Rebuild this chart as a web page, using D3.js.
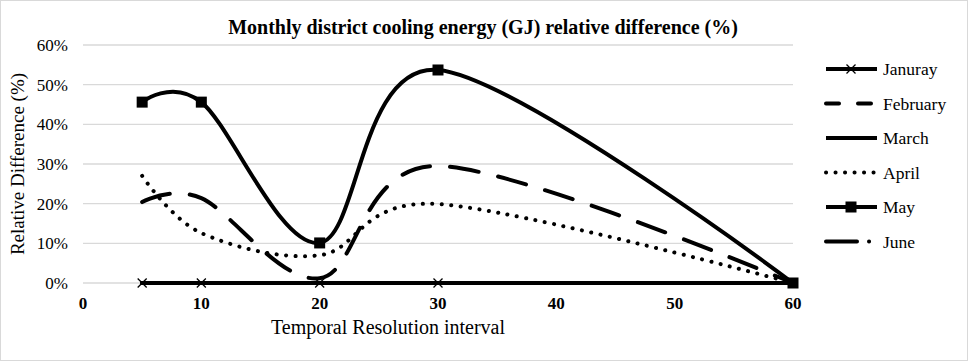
<!DOCTYPE html>
<html>
<head>
<meta charset="utf-8">
<script src="https://cdn.jsdelivr.net/npm/d3@7"></script>
<style>
  body { margin: 0; background: #fff; }
  text { font-family: "Liberation Serif", "Times New Roman", serif; fill: #000; }
</style>
</head>
<body>
<div id="chart"></div>
<script>
// temporal resolution intervals (x values)
var intervals = [5, 10, 20, 30, 60]
// relative difference (%) per month
var january = [0, 0, 0, 0, 0]
var february = [20.4, 21.4, 1.2, 29.5, 0]
var march = [0, 0, 0, 0, 0]
var april = [27, 12.6, 7.0, 19.9, 0]
var may = [45.6, 45.6, 10.1, 53.7, 0]
var june = [0, 0, 0, 0, 0]

var xTicks = [0, 10, 20, 30, 40, 50, 60]
var yTicks = [0, 10, 20, 30, 40, 50, 60]
var seriesNames = ["Januray", "February", "March", "April", "May", "June"]

var w = 970, h = 362
var plotLeft = 83, plotRight = 793, plotTop = 45, plotBottom = 283

var svg = d3.select("#chart").append("svg")
    .attr("width", w)
    .attr("height", h)

// chart border
svg.append("rect")
    .attr("x", 0.5).attr("y", 0.5)
    .attr("width", 967).attr("height", 360)
    .attr("fill", "none")
    .attr("stroke", "#d9d9d9")

var x = d3.scaleLinear().domain([0, 60]).range([plotLeft, plotRight])
var y = d3.scaleLinear().domain([0, 60]).range([plotBottom, plotTop])

//gridlines
svg.append("g").selectAll("line")
    .data(yTicks)
    .enter()
    .append("line")
    .attr("x1", plotLeft)
    .attr("x2", plotRight)
    .attr("y1", function (d) { return y(d) })
    .attr("y2", function (d) { return y(d) })
    .attr("stroke", "#d9d9d9")
    .attr("stroke-width", 1.3)

// y tick labels
svg.append("g").selectAll("text")
    .data(yTicks)
    .enter()
    .append("text")
    .attr("x", 68)
    .attr("y", function (d) { return y(d) + 6 })
    .attr("text-anchor", "end")
    .style("font-size", "17px")
    .text(function (d) { return d + "%" })

// x tick labels
svg.append("g").selectAll("text")
    .data(xTicks)
    .enter()
    .append("text")
    .attr("x", function (d) { return x(d) })
    .attr("y", 309)
    .attr("text-anchor", "middle")
    .style("font-size", "17px")
    .style("font-weight", "bold")
    .text(function (d) { return d })

// titles
svg.append("text")
    .attr("x", 483).attr("y", 34)
    .attr("text-anchor", "middle")
    .style("font-size", "20px")
    .style("font-weight", "bold")
    .text("Monthly district cooling energy (GJ) relative difference (%)")

svg.append("text")
    .attr("x", 388).attr("y", 334)
    .attr("text-anchor", "middle")
    .style("font-size", "20px")
    .text("Temporal Resolution interval")

svg.append("text")
    .attr("transform", "translate(24,164) rotate(-90)")
    .attr("text-anchor", "middle")
    .style("font-size", "19px")
    .text("Relative Difference (%)")

var series = [
    {name: seriesNames[0], values: january, dash: null, marker: "x"},
    {name: seriesNames[1], values: february, dash: "29,20", legendDash: "13,19", marker: null},
    {name: seriesNames[2], values: march, dash: null, marker: null},
    {name: seriesNames[3], values: april, dash: "0.1,9.4", marker: null},
    {name: seriesNames[4], values: may, dash: null, marker: "square"},
    {name: seriesNames[5], values: june, dash: "31,12,0.1,12", marker: null}
]

var line = d3.line()
    .x(function (d) { return x(d[0]) })
    .y(function (d) { return y(d[1]) })
    .curve(d3.curveCardinal.tension(0))

var plot = svg.append("g")

function drawMarker(g, type, cx, cy) {
    if (type == "square") {
        g.append("rect")
            .attr("x", cx - 5.5).attr("y", cy - 5.5)
            .attr("width", 11).attr("height", 11)
            .attr("fill", "#000")
    } else if (type == "x") {
        g.append("path")
            .attr("d", "M" + (cx - 4.5) + "," + (cy - 4.5) + "L" + (cx + 4.5) + "," + (cy + 4.5) +
                "M" + (cx - 4.5) + "," + (cy + 4.5) + "L" + (cx + 4.5) + "," + (cy - 4.5))
            .attr("stroke", "#000")
            .attr("stroke-width", 1.3)
            .attr("fill", "none")
    }
}

series.forEach(function (s) {
    var pts = intervals.map(function (t, i) { return [t, s.values[i]] })
    plot.append("path")
        .attr("d", line(pts))
        .attr("fill", "none")
        .attr("stroke", "#000")
        .attr("stroke-width", 4)
        .attr("stroke-linecap", "round")
        .attr("stroke-dasharray", s.dash)
    if (s.marker) {
        var mg = plot.append("g")
        pts.forEach(function (p) { drawMarker(mg, s.marker, x(p[0]), y(p[1])) })
    }
})

// legend
var legend = svg.append("g")
series.forEach(function (s, i) {
    var ly = 69 + i * 34.5
    legend.append("line")
        .attr("x1", 826).attr("x2", 877)
        .attr("y1", ly).attr("y2", ly)
        .attr("stroke", "#000")
        .attr("stroke-width", 4)
        .attr("stroke-linecap", s.dash ? "round" : "butt")
        .attr("stroke-dasharray", s.legendDash || s.dash)
    if (s.marker) drawMarker(legend, s.marker, 851, ly)
    legend.append("text")
        .attr("x", 883).attr("y", ly + 6)
        .style("font-size", "17.5px")
        .text(s.name)
})
</script>
</body>
</html>
